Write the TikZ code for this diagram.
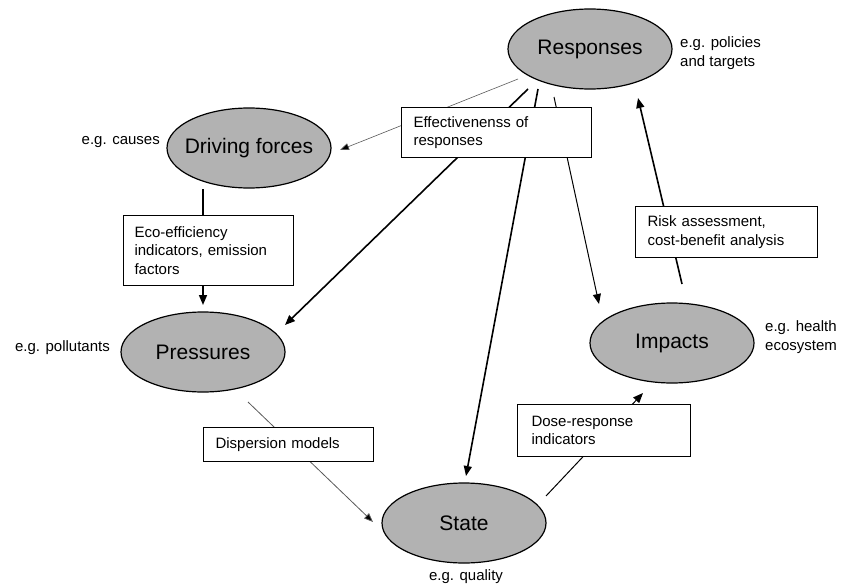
\documentclass[tikz,border=0pt]{standalone}
\usepackage{fontspec}
\setmainfont{Liberation Sans}
\usetikzlibrary{arrows.meta,shapes.geometric}
\definecolor{stagefill}{RGB}{178,178,178}
\definecolor{faintline}{RGB}{90,90,90}
\begin{document}
\begin{tikzpicture}[x=1pt,y=-1pt,
  stage/.style={ellipse,draw=black,line width=1.2pt,fill=stagefill,
    minimum width=164pt,minimum height=80pt,inner sep=-24pt,
    font=\fontsize{21}{25}\selectfont},
  toolbox/.style={draw=black,line width=1.1pt,fill=white,anchor=north west,
    inner xsep=12pt,inner ysep=0pt,align=left,
    font=\fontsize{15}{18.5}\selectfont},
  example/.style={inner sep=0pt,align=left,font=\fontsize{15}{18.5}\selectfont},
  link/.style={line width=1.6pt,-{Triangle[length=10pt,width=8pt]}},
  midlink/.style={line width=1pt,-{Triangle[length=10pt,width=8pt]}},
  faintlink/.style={line width=0.6pt,draw=faintline,-{Triangle[length=9pt,width=7pt,fill=black]}},
]
\useasboundingbox (0,0) rectangle (843,586);

% DPSIR stages
\node[stage] (resp)  at (590,49)  {Responses};
\node[stage] (drive) at (249,148) {Driving forces};
\node[stage] (press) at (203,352) {Pressures};
\node[stage] (state) at (464,523) {State};
\node[stage] (imp)   at (672,343) {Impacts};

% examples next to each stage
\node[example,anchor=west] (respex)  at (680,53)  {e.g. policies\\and targets};
\node[example,anchor=east] (driveex) at (160,142) {e.g. causes};
\node[example,anchor=east] (pressex) at (110,348) {e.g. pollutants};
\node[example,anchor=west] (impex)   at (765,337) {e.g. health\\ecosystem};
\node[example] (stateex) at (466,577) {e.g. quality};

% connector end points just off the stage outlines
\coordinate (respA) at (518,79);
\coordinate (respB) at (528,89);
\coordinate (respC) at (538,89);
\coordinate (respD) at (554,97);
\coordinate (respIn) at (638,98);
\coordinate (driveIn) at (340,150);
\coordinate (driveOut) at (203,189);
\coordinate (pressIn) at (203,305);
\coordinate (pressIn2) at (285,325);
\coordinate (pressOut) at (248,402);
\coordinate (stateIn) at (466,476);
\coordinate (stateIn2) at (373,522);
\coordinate (stateOut) at (546,496);
\coordinate (impIn) at (599,304);
\coordinate (impIn2) at (643,393);
\coordinate (impOut) at (682,284);

% connectors (the boxes are laid over them)
\draw[faintlink] (respA) -- (driveIn);
\draw[link] (respB) -- (pressIn2);
\draw[link] (respC) -- (stateIn);
\draw[midlink] (respD) -- (impIn);
\draw[link] (impOut) -- (respIn);
\draw[link] (driveOut) -- (pressIn);
\draw[faintlink,line width=0.8pt] (pressOut) -- (stateIn2);
\draw[midlink] (stateOut) -- (impIn2);

% indicator / tool boxes
\node[toolbox,minimum width=190pt,minimum height=50pt,text width=166pt] (effect) at (401,107)
  {Effectivenenss of\\responses};
\node[toolbox,minimum width=170pt,minimum height=70pt,text width=148pt,inner xsep=10pt] (eco) at (123,215)
  {Eco-efficiency\\indicators, emission\\factors};
\node[toolbox,minimum width=170pt,minimum height=34pt,text width=146pt] (disp) at (203,427)
  {Dispersion models};
\node[toolbox,minimum width=182pt,minimum height=51pt,text width=158pt] (risk) at (635,206)
  {Risk assessment,\\cost-benefit analysis};
\node[toolbox,minimum width=173pt,minimum height=52pt,text width=145pt,inner xsep=14pt] (dose) at (517,404)
  {Dose-response\\indicators};
\end{tikzpicture}
\end{document}
